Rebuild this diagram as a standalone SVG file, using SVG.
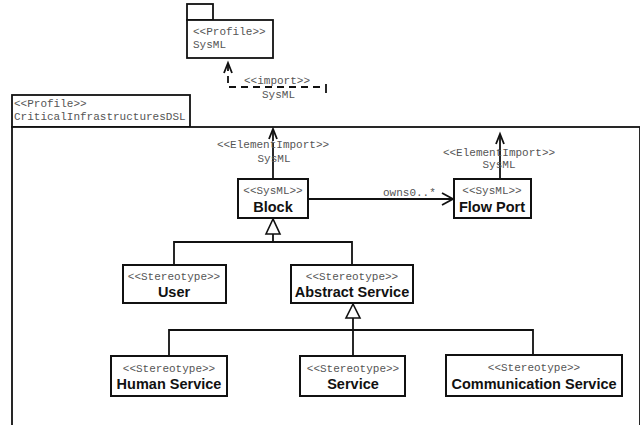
<svg xmlns="http://www.w3.org/2000/svg" width="640" height="425" viewBox="0 0 640 425">
<style>
.box{fill:#fff;stroke:#111;stroke-width:2}
.pkg{fill:#fff;stroke:#111;stroke-width:1.8}
.m{font-family:"Liberation Mono","Courier New",monospace;font-size:11px;fill:#555}
.b{font-family:"Liberation Sans",Arial,sans-serif;font-size:14.5px;font-weight:bold;fill:#111}
.ln{fill:none;stroke:#111;stroke-width:1.8}
.dash{fill:none;stroke:#111;stroke-width:1.8;stroke-dasharray:7,5}
.tri{fill:#fff;stroke:#111;stroke-width:1.6}
</style>
<rect width="640" height="425" fill="#fff"/>
<g id="pkg-sysml">
<rect class="pkg" x="187" y="4" width="26" height="16"/>
<rect class="pkg" x="187" y="20" width="86" height="38"/>
<text class="m" x="193" y="35">&lt;&lt;Profile&gt;&gt;</text>
<text class="m" x="193" y="48">SysML</text>
</g>
<g id="pkg-cidsl">
<rect class="pkg" x="12" y="95" width="178" height="32"/>
<rect class="pkg" x="12" y="127" width="628" height="310"/>
<text class="m" x="14" y="107">&lt;&lt;Profile&gt;&gt;</text>
<text class="m" x="14" y="120">CriticalInfrastructuresDSL</text>
</g>
<g id="connectors">
<polyline class="ln" points="224,73 228,63 232,73"/>
<polyline class="dash" points="228,64 228,87 320,87"/>
<line class="ln" x1="326" y1="84" x2="326" y2="93"/>
<text class="m" x="244" y="84">&lt;&lt;import&gt;&gt;</text>
<text class="m" x="262" y="98">SysML</text>
<polyline class="ln" points="269,139 273,129 277,139"/>
<line class="ln" x1="273" y1="130" x2="273" y2="141"/>
<line class="ln" x1="273" y1="143" x2="273" y2="179"/>
<text class="m" x="273" y="148" text-anchor="middle">&lt;&lt;ElementImport&gt;&gt;</text>
<text class="m" x="274" y="162" text-anchor="middle">SysML</text>
<polyline class="ln" points="496,144 500,134 504,144"/>
<line class="ln" x1="500" y1="135" x2="500" y2="179"/>
<text class="m" x="499" y="156" text-anchor="middle">&lt;&lt;ElementImport&gt;&gt;</text>
<text class="m" x="499" y="168" text-anchor="middle">SysML</text>
<line class="ln" x1="308" y1="199" x2="453" y2="199"/>
<polyline class="ln" points="442,193 453,199 442,205"/>
<text class="m" x="383" y="196">owns0..*</text>
<polyline class="ln" points="174,265 174,242 352,242 352,265"/>
<line class="ln" x1="273" y1="234" x2="273" y2="242"/>
<polygon class="tri" points="273,219 266,234 280,234"/>
<polyline class="ln" points="169,356 169,330 533,330 533,355"/>
<line class="ln" x1="353" y1="318" x2="353" y2="356"/>
<polygon class="tri" points="353,304 346,318 360,318"/>
</g>
<g id="block">
<rect class="box" x="238" y="179" width="70" height="39"/>
<text class="m" x="273" y="194" text-anchor="middle">&lt;&lt;SysML&gt;&gt;</text>
<text class="b" x="273" y="212" text-anchor="middle">Block</text>
</g>
<g id="flowport">
<rect class="box" x="454" y="179" width="77" height="39"/>
<text class="m" x="492" y="194" text-anchor="middle">&lt;&lt;SysML&gt;&gt;</text>
<text class="b" x="492" y="212" text-anchor="middle">Flow Port</text>
</g>
<g id="user">
<rect class="box" x="123" y="265" width="103" height="38"/>
<text class="m" x="174" y="280" text-anchor="middle">&lt;&lt;Stereotype&gt;&gt;</text>
<text class="b" x="174" y="297" text-anchor="middle">User</text>
</g>
<g id="abstract-service">
<rect class="box" x="291" y="265" width="122" height="38"/>
<text class="m" x="352" y="280" text-anchor="middle">&lt;&lt;Stereotype&gt;&gt;</text>
<text class="b" x="352" y="297" text-anchor="middle">Abstract Service</text>
</g>
<g id="human-service">
<rect class="box" x="111" y="356" width="116" height="40"/>
<text class="m" x="169" y="372" text-anchor="middle">&lt;&lt;Stereotype&gt;&gt;</text>
<text class="b" x="169" y="389" text-anchor="middle">Human Service</text>
</g>
<g id="service">
<rect class="box" x="300" y="356" width="105" height="40"/>
<text class="m" x="353" y="372" text-anchor="middle">&lt;&lt;Stereotype&gt;&gt;</text>
<text class="b" x="353" y="389" text-anchor="middle">Service</text>
</g>
<g id="communication-service">
<rect class="box" x="446" y="355" width="176" height="41"/>
<text class="m" x="534" y="371" text-anchor="middle">&lt;&lt;Stereotype&gt;&gt;</text>
<text class="b" x="534" y="389" text-anchor="middle">Communication Service</text>
</g>
</svg>
